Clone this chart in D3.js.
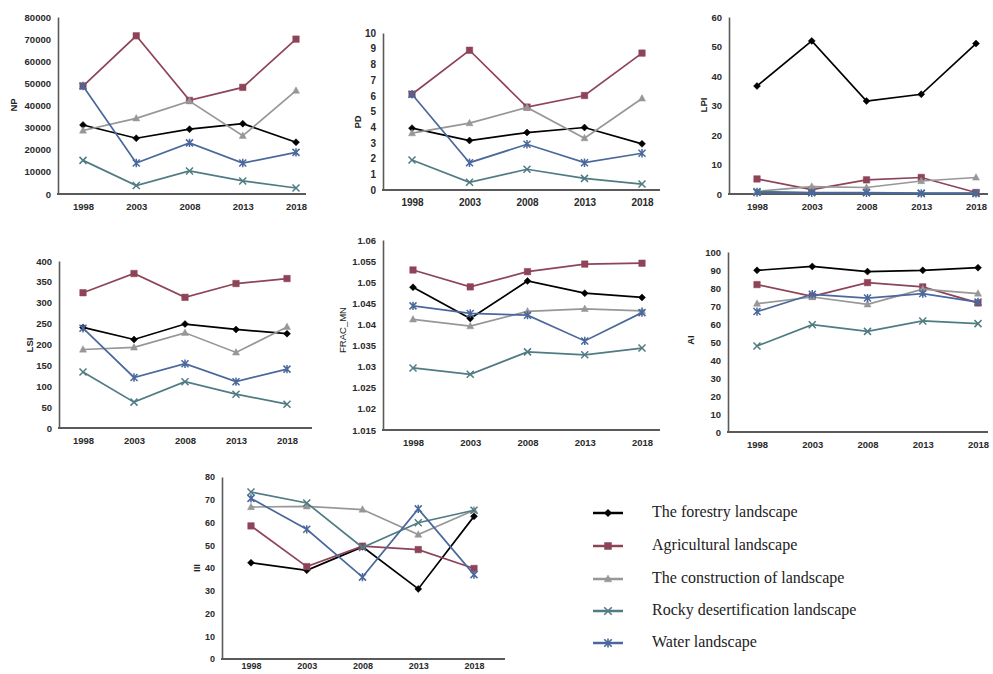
<!DOCTYPE html>
<html><head><meta charset="utf-8">
<script src="https://cdn.jsdelivr.net/npm/d3@7"></script>
<style>
body{margin:0;background:#fff;}
svg{display:block;}
.tick text{font-family:"Liberation Sans",Arial,sans-serif;font-weight:bold;fill:#2a2a2a;}
</style></head>
<body><svg id="c" width="993" height="674"></svg>
<script>
const years = ["1998","2003","2008","2013","2018"];
const seriesNames = ["The forestry landscape","Agricultural landscape","The construction of landscape","Rocky desertification landscape","Water landscape"];
const seriesColors = ["#000000","#8e4458","#979797","#4f7b82","#4a689c"];
const seriesShapes = ["diamond","square","triangle","x","asterisk"];

const NP = [[31200,25200,29300,31800,23400],[48800,71500,42300,48200,70000],[28700,34200,42000,26300,46700],[15200,3800,10400,5900,2700],[48800,14000,23100,14000,18800]];
const PD = [[3.94,3.15,3.66,3.98,2.94],[6.1,8.9,5.28,6.02,8.72],[3.62,4.26,5.26,3.3,5.83],[1.91,0.49,1.32,0.74,0.38],[6.1,1.74,2.91,1.74,2.34]];
const LPI = [[36.6,51.9,31.5,33.8,51],[5.1,1.5,4.8,5.6,0.5],[0.9,2.5,2.2,4.4,5.6],[0.8,0.5,0.5,0.3,0.3],[0.5,0.4,0.4,0.2,0.2]];
const LSI = [[241,212,249,236,226],[324,370,313,346,358],[188,193,228,181,242],[134,62,111,81,57],[239,121,154,111,141]];
const FRAC_MN = [[1.0488,1.0414,1.0503,1.0474,1.0464],[1.0529,1.0489,1.0525,1.0543,1.0545],[1.0412,1.0396,1.0431,1.0437,1.0432],[1.0297,1.0282,1.0335,1.0328,1.0344],[1.0444,1.0426,1.0422,1.0361,1.0428]];
const AI = [[89.8,92,89.1,89.8,91.3],[81.9,75.4,83,80.6,71.7],[71.3,75,70.9,79.4,76.9],[47.8,59.6,55.9,61.7,60.2],[66.9,76.5,74.4,76.9,72.2]];
const III = [[42.3,39,49.3,30.8,62.7],[58.5,40.6,49.6,48.1,39.8],[66.8,67.1,65.7,54.7,65.4],[73.4,68.6,49,59.9,65.4],[70.6,57,36,66,37.1]];

const NP_ticks = [0,10000,20000,30000,40000,50000,60000,70000,80000];
const PD_ticks = [0,1,2,3,4,5,6,7,8,9,10];
const LPI_ticks = [0,10,20,30,40,50,60];
const LSI_ticks = [0,50,100,150,200,250,300,350,400];
const FRAC_ticks = [1.015,1.02,1.025,1.03,1.035,1.04,1.045,1.05,1.055,1.06];
const AI_ticks = [0,10,20,30,40,50,60,70,80,90,100];
const III_ticks = [0,10,20,30,40,50,60,70,80];

const svg = d3.select("#c");

function symbolPath(shape, s){
  const h = s/2;
  if(shape==="diamond") return `M0,${-h}L${h},0L0,${h}L${-h},0Z`;
  if(shape==="square") return `M${-h},${-h}H${h}V${h}H${-h}Z`;
  if(shape==="triangle") return `M0,${-h*1.1}L${h},${h*0.75}L${-h},${h*0.75}Z`;
  if(shape==="x") return `M${-h},${-h}L${h},${h}M${-h},${h}L${h},${-h}`;
  return `M${-h},${-h}L${h},${h}M${-h},${h}L${h},${-h}M0,${-h*1.2}V${h*1.2}`;
}

const panels = [
  {name:"NP", data:NP, ticks:NP_ticks, ax:58, axEnd:306, yTop:17, yBot:194, px0:83, px1:296, lx:14, ly:105, fs:9.5, xp:9},
  {name:"PD", data:PD, ticks:PD_ticks, ax:383, axEnd:660, yTop:33, yBot:190, px0:412, px1:642, lx:358, ly:122, fs:10, xp:9},
  {name:"LPI", data:LPI, ticks:LPI_ticks, ax:729, axEnd:988, yTop:17, yBot:194, px0:757, px1:976, lx:704, ly:105, fs:9.5, xp:9},
  {name:"LSI", data:LSI, ticks:LSI_ticks, ax:59, axEnd:312, yTop:261, yBot:428, px0:83, px1:287, lx:30, ly:345, fs:9.5, xp:9},
  {name:"FRAC_MN", data:FRAC_MN, ticks:FRAC_ticks, ax:383, axEnd:660, yTop:240, yBot:430, px0:413, px1:642, lx:343, ly:330, fs:9.5, xp:9},
  {name:"AI", data:AI, ticks:AI_ticks, ax:728, axEnd:988, yTop:252, yBot:432, px0:757, px1:978, lx:691, ly:340, fs:9.5, xp:9},
  {name:"III", data:III, ticks:III_ticks, ax:222, axEnd:505, yTop:477, yBot:659, px0:251, px1:474, lx:197, ly:568, fs:9, xp:4}
];

panels.forEach(p=>{
  const g = svg.append("g");
  const x = d3.scalePoint().domain(years).range([p.px0,p.px1]);
  const y = d3.scaleLinear().domain([p.ticks[0], p.ticks[p.ticks.length-1]]).range([p.yBot,p.yTop]);
  const fmt = v => String(+v.toFixed(4));
  const yAx = g.append("g").attr("transform",`translate(${p.ax},0)`)
    .call(d3.axisLeft(y).tickValues(p.ticks).tickSize(0).tickPadding(7).tickFormat(fmt));
  yAx.select(".domain").attr("stroke","#5a5a5a").attr("stroke-width",1.6);
  yAx.selectAll("text").attr("font-size",p.fs);
  const xAx = g.append("g").attr("transform",`translate(0,${p.yBot})`)
    .call(d3.axisBottom(x).tickSize(0).tickPadding(p.xp));
  xAx.select(".domain").remove();
  xAx.selectAll("text").attr("font-size",p.fs);
  g.append("line").attr("x1",p.ax-1).attr("x2",p.axEnd).attr("y1",p.yBot).attr("y2",p.yBot)
    .attr("stroke","#5a5a5a").attr("stroke-width",2);
  g.append("text").attr("transform",`translate(${p.lx},${p.ly}) rotate(-90)`)
    .attr("text-anchor","middle").attr("dominant-baseline","middle")
    .attr("font-family","Liberation Sans,Arial,sans-serif").attr("font-weight", p.name==="FRAC_MN"?"normal":"bold")
    .attr("font-size",9.5).attr("fill","#222").text(p.name);
  const line = d3.line().x((d,i)=>x(years[i])).y(d=>y(d));
  p.data.forEach((vals,si)=>{
    const c = seriesColors[si];
    g.append("path").attr("d",line(vals)).attr("fill","none").attr("stroke",c).attr("stroke-width",1.7);
    const shape = seriesShapes[si];
    const filled = shape!=="x" && shape!=="asterisk";
    g.selectAll(null).data(vals).enter().append("path")
      .attr("transform",(d,i)=>`translate(${x(years[i])},${y(d)})`)
      .attr("d",symbolPath(shape, shape==="square"?6.5:7))
      .attr("fill",filled?c:"none").attr("stroke",c).attr("stroke-width",filled?0.5:1.5);
  });
});

// legend
const leg = svg.append("g");
const legY = [513,546,579,611,643];
seriesNames.forEach((n,i)=>{
  const c = seriesColors[i];
  const row = leg.append("g").attr("transform",`translate(0,${legY[i]})`);
  row.append("line").attr("x1",593).attr("x2",623).attr("y1",0).attr("y2",0).attr("stroke",c).attr("stroke-width",2.5);
  const shape = seriesShapes[i];
  const filled = shape!=="x" && shape!=="asterisk";
  row.append("path").attr("transform","translate(608,0)").attr("d",symbolPath(shape, shape==="square"?7:7.5))
    .attr("fill",filled?c:"none").attr("stroke",c).attr("stroke-width",filled?0.5:1.6);
  row.append("text").attr("x",652).attr("y",0).attr("dominant-baseline","middle")
    .attr("font-family","Liberation Serif,Times New Roman,serif").attr("font-size",16).attr("fill","#222").text(n);
});
</script></body></html>
